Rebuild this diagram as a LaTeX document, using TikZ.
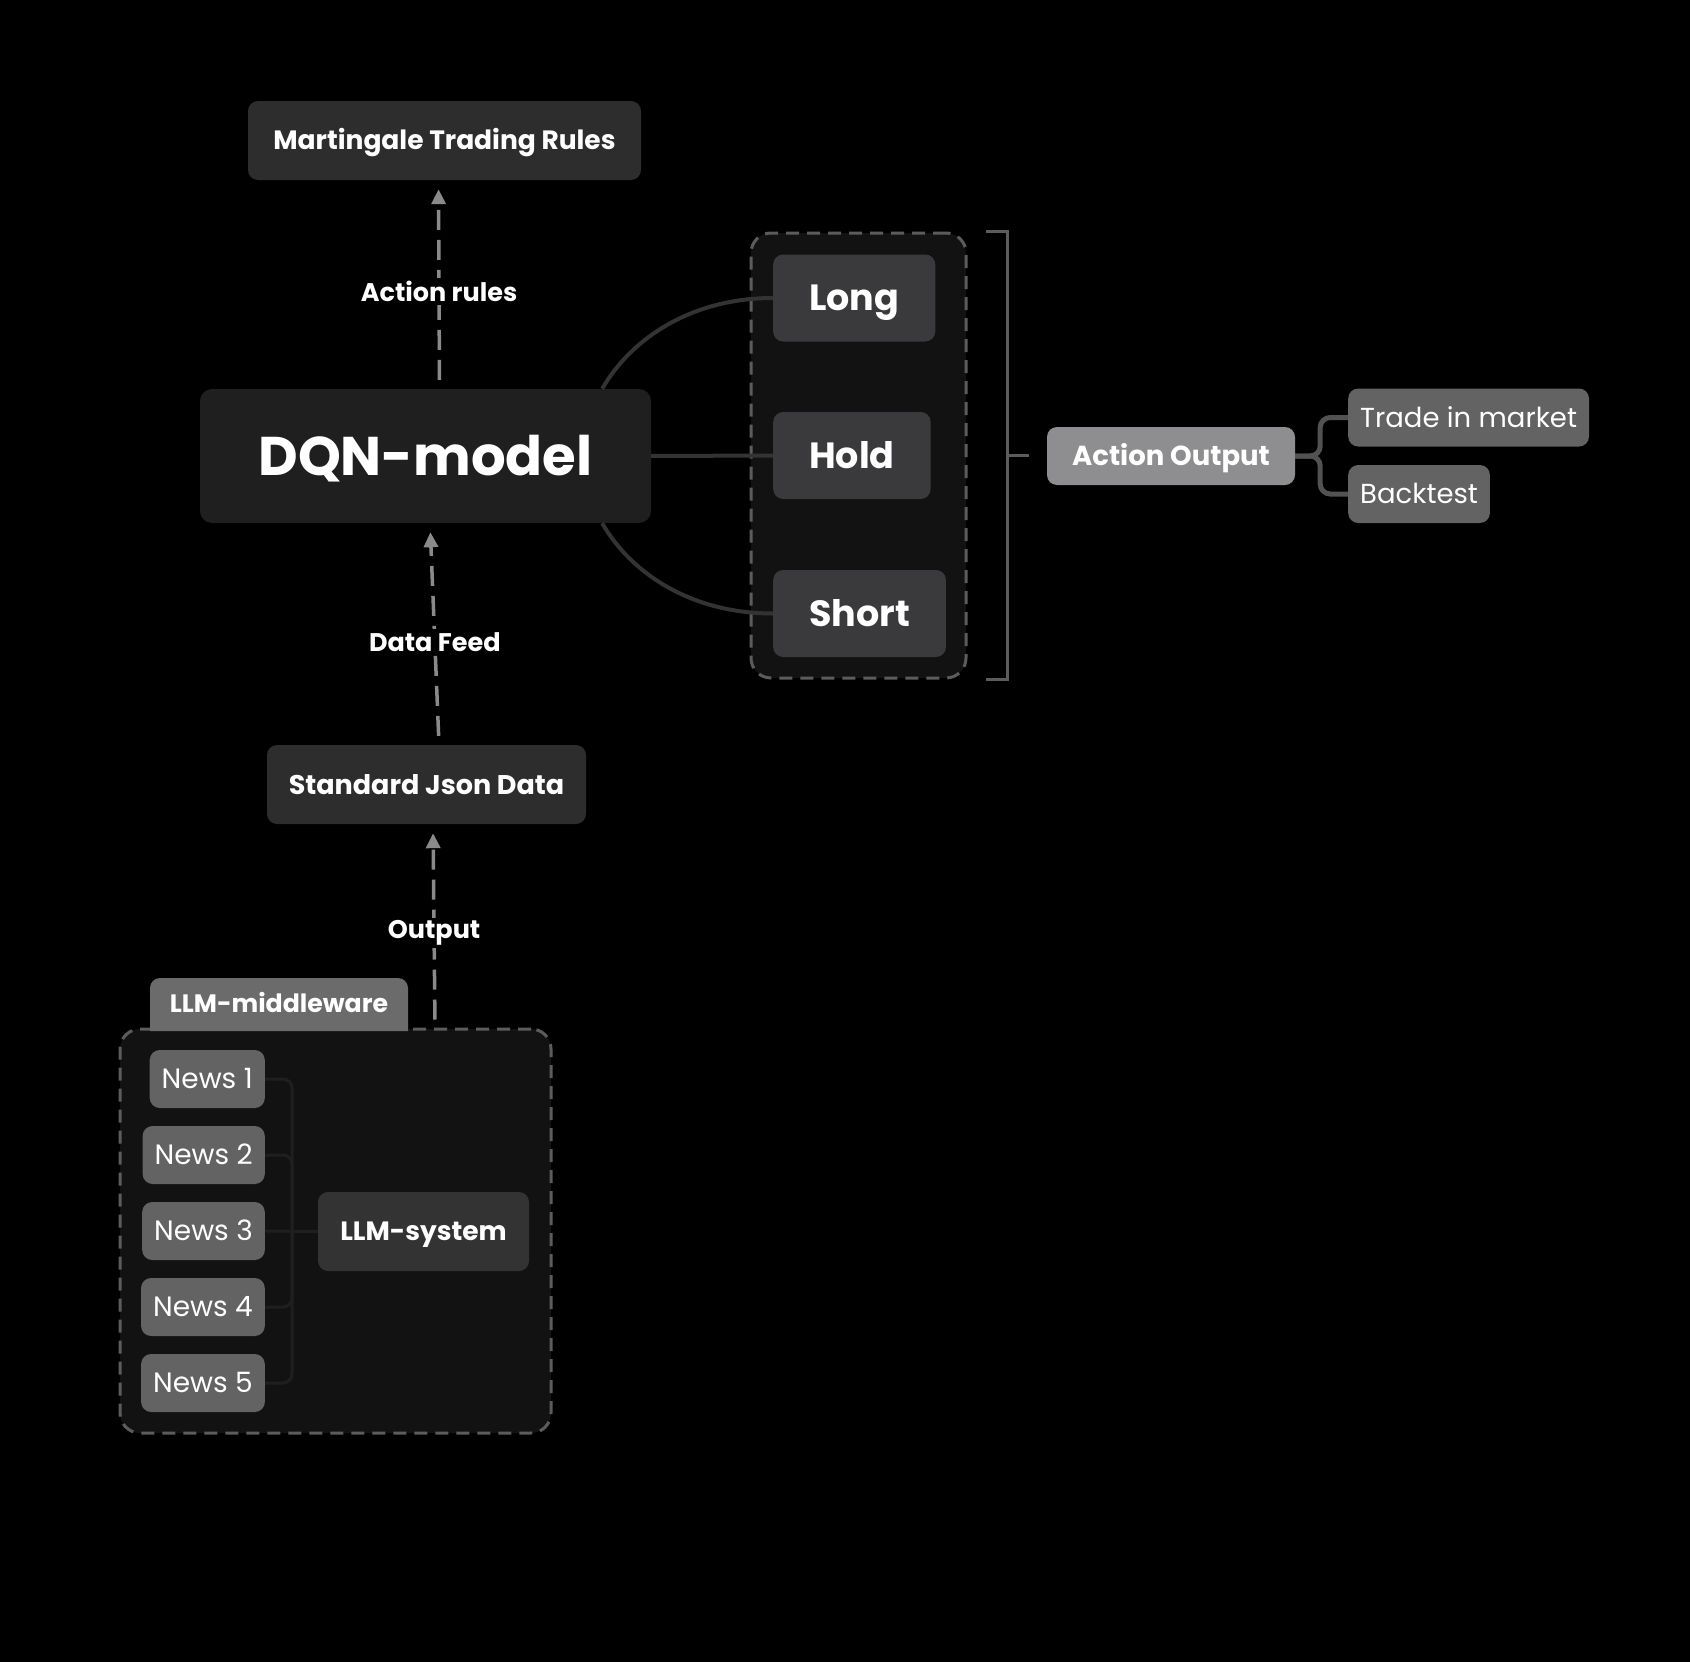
\documentclass[tikz,border=0pt]{standalone}
\usepackage{fontspec}
\setmainfont{Poppins}
\usepackage{tikz}
\usetikzlibrary{arrows.meta,calc}
\definecolor{cardfill}{HTML}{2D2D2D}
\definecolor{dqnfill}{HTML}{1F1F1F}
\definecolor{actfill}{HTML}{3A3A3C}
\definecolor{groupfill}{HTML}{121212}
\definecolor{dashgray}{HTML}{5C5C5C}
\definecolor{arrowgray}{HTML}{8A8A8A}
\definecolor{leaffill}{HTML}{636363}
\definecolor{outfill}{HTML}{8E8E90}
\definecolor{linkgray}{HTML}{333333}
\tikzstyle{card} = [rectangle, rounded corners=10pt, fill=cardfill, text=white, inner sep=0pt, text height=18.5pt, text depth=0pt, font=\bfseries\fontsize{26.5}{30}\selectfont]
\tikzstyle{act} = [card, fill=actfill, inner xsep=36pt, minimum height=87pt, text height=25.5pt, font=\bfseries\fontsize{36.5}{40}\selectfont]
\tikzstyle{leaf} = [card, fill=leaffill, inner xsep=12pt, minimum height=58pt, text height=19pt, font=\fontsize{27.5}{31}\selectfont]
\tikzstyle{news} = [leaf, inner xsep=12pt, text height=19.5pt, font=\fontsize{28}{31}\selectfont]
\tikzstyle{group} = [rectangle, rounded corners=20pt, draw=dashgray, line width=3pt, dash pattern=on 13pt off 8pt, fill=groupfill]
\tikzstyle{link} = [draw=linkgray, line width=4pt]
\tikzstyle{thinlink} = [draw=linkgray!110, line width=3pt, rounded corners=9pt]
\tikzstyle{outlink} = [draw=linkgray!85, line width=5pt, rounded corners=10pt]
\tikzstyle{flow} = [draw=arrowgray, line width=3.5pt, dash pattern=on 20pt off 10pt, -{Triangle[length=15pt,width=14pt]}, shorten <=9pt, shorten >=9pt]
\tikzstyle{lbl} = [fill=black, text=white, inner sep=3pt, pos=0.465, font=\bfseries\fontsize{25.5}{29}\selectfont]

\begin{document}
\begin{tikzpicture}[x=1pt,y=-1pt]
\fill[black] (0,0) rectangle (1690,1662);
\useasboundingbox (0,0) rectangle (1690,1662);

% dqn and the three actions
\node[group, minimum width=215pt, minimum height=445pt] (acts) at (858.5,455.5) {};
\node[card, minimum width=393pt, minimum height=79pt] (rules) at (444.5,140.5) {Martingale Trading Rules};
\node[card, fill=dqnfill, rounded corners=12pt, minimum width=451pt, minimum height=134pt, text height=38pt, font=\bfseries\fontsize{54.5}{60}\selectfont] (dqn) at (425.5,456) {DQN-model};
\node[card, minimum width=319pt, minimum height=79pt, text height=19pt, font=\bfseries\fontsize{27}{30}\selectfont] (json) at (426.5,784.5) {Standard Json Data};
\node[act, anchor=west] (long) at (773,298) {Long};
\node[act, anchor=west] (hold) at (773,455.5) {Hold};
\node[act, anchor=west] (short) at (773,613.5) {Short};
\draw[link] ($(dqn.north east)+(-49,0)$) .. controls +(28,-49) and +(-83,0) .. (long.west);
\draw[link] (dqn.east) -- (hold.west);
\draw[link] ($(dqn.south east)+(-49,0)$) .. controls +(28,49) and +(-83,0) .. (short.west);

% bracket and outputs
\draw[draw=dashgray, line width=3pt] ($(acts.north east)+(18,0)$) -- ($(acts.north east)+(40,0)$) -- ($(acts.south east)+(40,0)$) -- ($(acts.south east)+(18,0)$);
\draw[draw=dashgray, line width=3pt] ($(acts.east)+(40,0)$) -- ++(21,0);
\node[leaf, fill=outfill, minimum width=248pt, font=\bfseries\fontsize{27.5}{31}\selectfont] (aout) at (1171,456) {Action Output};
\node[leaf, anchor=west] (trade) at (1348,417.5) {Trade in market};
\node[leaf, anchor=west] (back) at (1348,494) {Backtest};
\draw[outlink] (aout.east) -- ++(25,0) |- (trade.west);
\draw[outlink] (aout.east) -- ++(25,0) |- (back.west);

% llm middleware
\node[group, minimum width=431pt, minimum height=404pt] (llm) at (335.5,1231) {};
\fill[leaffill!95] (150,1031) {[rounded corners=10pt] -- (150,978) -- (408,978)} -- (408,1031) -- cycle;
\node[text=white, text height=17.6pt, text depth=0pt, inner sep=0pt, font=\bfseries\fontsize{25.2}{29}\selectfont] (mw) at (279,1004) {LLM-middleware};
\foreach \i in {1,...,5}
  \node[news, anchor=east] (news\i) at (265,{1003+76*\i}) {News \i};
\node[card, fill=linkgray, minimum width=211pt, minimum height=79pt] (sys) at (423.5,1231.5) {LLM-system};
\coordinate (bus) at ($(news3.east)+(27,0)$);
\foreach \i in {1,2,4,5}
  \draw[thinlink] (news\i.east) -| (bus);
\draw[thinlink] (news3.east) -- (sys.west);

% dashed feeds
\draw[flow] ($(dqn.north)+(14,0)$) -- node[lbl] {Action rules} ($(rules.south)+(-6,0)$);
\draw[flow] ($(json.north)+(12.5,0)$) -- node[lbl] {Data Feed} ($(dqn.south)+(4.5,0)$);
\draw[flow, shorten <=8pt] ($(llm.north)+(99.5,0)$) -- node[lbl] {Output} ($(json.south)+(6.5,0)$);
%\node[lbl] at (440,1100) {};
\end{tikzpicture}
\end{document}
